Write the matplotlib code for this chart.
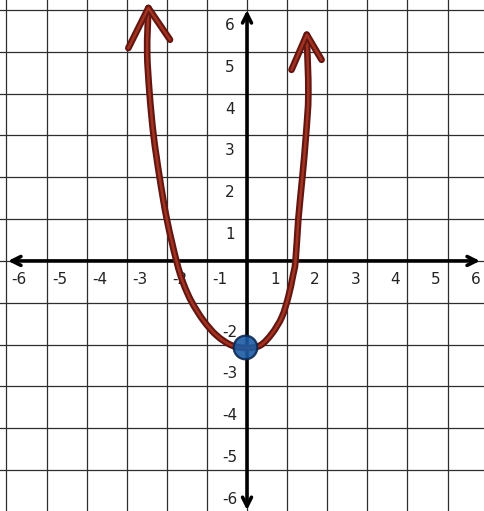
import numpy as np
import matplotlib.pyplot as plt
from matplotlib.path import Path
from matplotlib.patches import PathPatch

# grid / axis values
grid_x = [-6, -5, -4, -3, -2, -1, 0, 1, 2, 3, 4, 5, 6]
grid_y = [-6, -5, -4, -3, -2, -1, 0, 1, 2, 3, 4, 5, 6]
xlabels_vals = [-6, -5, -4, -3, -2, -1, 1, 2, 3, 4, 5, 6]
ylabels_vals = [-6, -5, -4, -3, -2, 1, 2, 3, 4, 5, 6]

# hand drawn curve
curve_x = [-2.46, -2.49, -2.43, -2.33, -2.18, -2.00, -1.76, -1.59, -1.38, -1.09,
           -0.76, -0.38, 0.00, 0.33, 0.62, 0.87, 1.03, 1.14, 1.21, 1.28,
           1.38, 1.47, 1.53, 1.49]
curve_y = [6.05, 5.00, 4.00, 3.00, 2.00, 1.00, 0.00, -0.53, -0.98, -1.42,
           -1.78, -2.02, -2.08, -2.02, -1.74, -1.34, -0.86, -0.38, 0.00, 1.00,
           2.00, 3.00, 4.00, 5.41]

# arrow heads at the ends of the curve
left_head_x = [-2.96, -2.46, -1.92]
left_head_y = [5.09, 6.05, 5.29]
right_head_x = [1.11, 1.49, 1.86]
right_head_y = [4.57, 5.41, 4.81]

# marked point
pt_x = [-0.05]
pt_y = [-2.06]


def smooth_path(xs, ys, ax):
    # catmull-rom through the points, drawn as bezier segments in pixel space
    pts = ax.transData.transform(np.column_stack([xs, ys]))
    verts = [pts[0]]
    codes = [Path.MOVETO]
    n = len(pts)
    for i in range(n - 1):
        p0 = pts[max(i - 1, 0)]
        p1 = pts[i]
        p2 = pts[i + 1]
        p3 = pts[min(i + 2, n - 1)]
        c1 = p1 + (p2 - p0) / 6.0
        c2 = p2 - (p3 - p1) / 6.0
        verts += [c1, c2, p2]
        codes += [Path.CURVE4] * 3
    verts = ax.transData.inverted().transform(np.array(verts))
    return Path(verts, codes)


fig = plt.figure(figsize=(4.84, 5.11), dpi=100)
ax = fig.add_axes([0, 0, 1, 1])
ax.set_xlim(-6.16, 5.91)
ax.set_ylim(-5.98, 6.24)
ax.axis('off')

for gx in grid_x:
    ax.axvline(gx, color='#2e2e2e', lw=0.9, zorder=1)
for gy in grid_y:
    ax.axhline(gy, color='#2e2e2e', lw=0.9, zorder=1)

# axes with arrows
ax.annotate('', xy=(5.81, 0), xytext=(-5.96, 0),
            arrowprops=dict(arrowstyle='<->', color='black', lw=2.6,
                            mutation_scale=16, shrinkA=0, shrinkB=0), zorder=4)
ax.annotate('', xy=(0, 6.0), xytext=(0, -5.96),
            arrowprops=dict(arrowstyle='<->', color='black', lw=2.6,
                            mutation_scale=16, shrinkA=0, shrinkB=0), zorder=4)

for v in xlabels_vals:
    off = -0.3 if v > 0 else 0.32
    ax.text(v + off, -0.45, str(v), ha='center', va='center', fontsize=11,
            color='#222222', zorder=3)
for v in ylabels_vals:
    off = -0.37 if v > 0 else 0.3
    ax.text(-0.42, v + off, str(v), ha='center', va='center', fontsize=11,
            color='#222222', zorder=3)

# curve: dark marker stroke with lighter core
curve_path = smooth_path(curve_x, curve_y, ax)
ax.add_patch(PathPatch(curve_path, fill=False, ec='#631510', lw=4.8,
                       joinstyle='round', capstyle='round', zorder=5))
ax.add_patch(PathPatch(curve_path, fill=False, ec='#a13322', lw=1.8,
                       joinstyle='round', capstyle='round', zorder=5))
for hx, hy in [(left_head_x, left_head_y), (right_head_x, right_head_y)]:
    ax.plot(hx, hy, color='#631510', lw=4.8, solid_joinstyle='round',
            solid_capstyle='round', zorder=5)
    ax.plot(hx, hy, color='#a13322', lw=1.8, solid_joinstyle='round',
            solid_capstyle='round', zorder=5)

ax.plot(pt_x, pt_y, 'o', ms=17, color='#1d5ba3', mec='#0c2850', mew=1.6,
        alpha=0.9, zorder=6)

fig.savefig('out.png', dpi=100)
